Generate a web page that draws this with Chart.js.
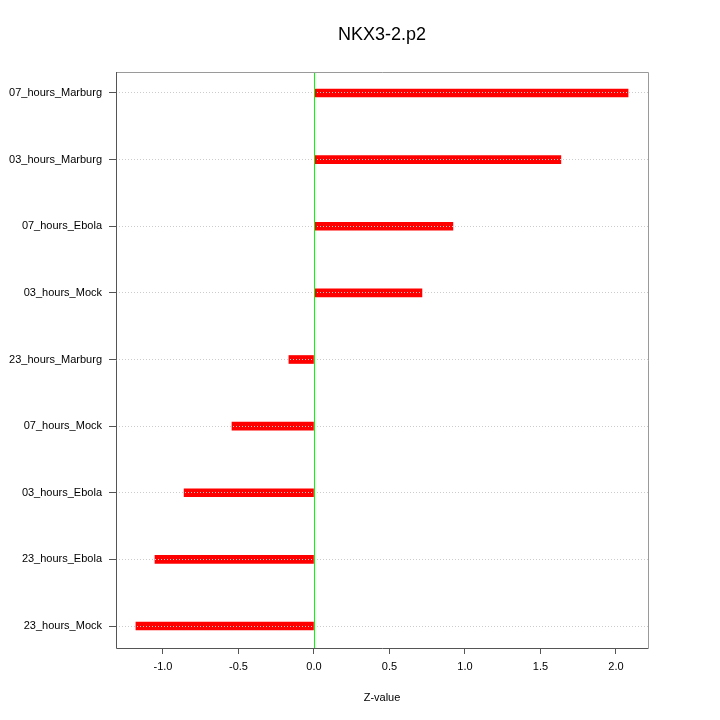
<!DOCTYPE html>
<html>
<head>
<meta charset="utf-8">
<script src="https://cdn.jsdelivr.net/npm/chart.js@4"></script>
<style>
html,body{margin:0;padding:0;background:#fff;}
#wrap{width:720px;height:720px;}
</style>
</head>
<body>
<div id="wrap"><canvas id="c" width="720" height="720"></canvas></div>
<script>
const chartTitle = 'NKX3-2.p2';
const xTitle = 'Z-value';
const categories = ['07_hours_Marburg','03_hours_Marburg','07_hours_Ebola','03_hours_Mock','23_hours_Marburg','07_hours_Mock','03_hours_Ebola','23_hours_Ebola','23_hours_Mock'];
const values = [2.08, 1.635, 0.92, 0.715, -0.166, -0.543, -0.86, -1.053, -1.179];
const xTicks = [-1.0, -0.5, 0.0, 0.5, 1.0, 1.5, 2.0];

const FONT = '"Liberation Sans", Arial, Helvetica, sans-serif';

const framePlugin = {
  id: 'frame',
  afterDraw(chart) {
    const {ctx, chartArea: a, scales} = chart;
    ctx.save();
    const x0 = scales.x.getPixelForValue(0);
    ctx.strokeStyle = '#00ff00';
    ctx.lineWidth = 1;
    ctx.beginPath();
    ctx.moveTo(Math.round(x0) + 0.5, a.top);
    ctx.lineTo(Math.round(x0) + 0.5, a.bottom);
    ctx.stroke();
    ctx.strokeStyle = '#9a9a9a';
    ctx.beginPath();
    ctx.moveTo(a.left, a.top + 0.5);
    ctx.lineTo(a.right + 0.5, a.top + 0.5);
    ctx.lineTo(a.right + 0.5, a.bottom);
    ctx.stroke();
    ctx.strokeStyle = '#555555';
    ctx.beginPath();
    ctx.moveTo(a.left + 0.5, a.top);
    ctx.lineTo(a.left + 0.5, a.bottom + 0.5);
    ctx.lineTo(a.right + 0.5, a.bottom + 0.5);
    ctx.stroke();
    ctx.fillStyle = '#000';
    ctx.font = '18px ' + FONT;
    ctx.textAlign = 'center';
    ctx.textBaseline = 'middle';
    ctx.fillText(chartTitle, (a.left + a.right) / 2, 35);
    ctx.restore();
  }
};

new Chart(document.getElementById('c'), {
  type: 'bar',
  data: {
    datasets: [{
      data: values.map((v, i) => ({x: v, y: i})),
      backgroundColor: '#ff0000',
      borderWidth: 0,
      barThickness: 8
    }]
  },
  options: {
    indexAxis: 'y',
    responsive: false,
    animation: false,
    devicePixelRatio: 1,
    layout: {padding: {top: 72, right: 72, left: 0, bottom: 0}},
    plugins: {legend: {display: false}, tooltip: {enabled: false}, title: {display: false}},
    scales: {
      x: {
        type: 'linear',
        min: -1.311,
        max: 2.212,
        afterBuildTicks(s) { s.ticks = xTicks.map(v => ({value: v})); },
        afterFit(s) { s.height = 72; },
        grid: {drawOnChartArea: false, tickLength: 6, tickColor: '#555555'},
        border: {display: false},
        ticks: {font: {family: FONT, size: 11}, color: '#000', padding: 6, callback: v => v.toFixed(1), maxRotation: 0},
        title: {display: true, text: xTitle, font: {family: FONT, size: 11}, color: '#000', padding: {top: 0, bottom: 15}}
      },
      y: {
        type: 'linear',
        reverse: true,
        offset: false,
        min: -0.315,
        max: 8.33,
        afterBuildTicks(s) { s.ticks = categories.map((c, i) => ({value: i})); },
        afterFit(s) { s.width = 116; },
        grid: {z: 1, offset: false, color: '#cccccc', tickLength: 7, tickColor: '#555555', tickBorderDash: [], lineWidth: 1},
        border: {display: false, dash: [1, 2]},
        ticks: {font: {family: FONT, size: 11}, color: '#000', padding: 7, callback: v => categories[v]}
      }
    }
  },
  plugins: [framePlugin]
});
</script>
</body>
</html>
